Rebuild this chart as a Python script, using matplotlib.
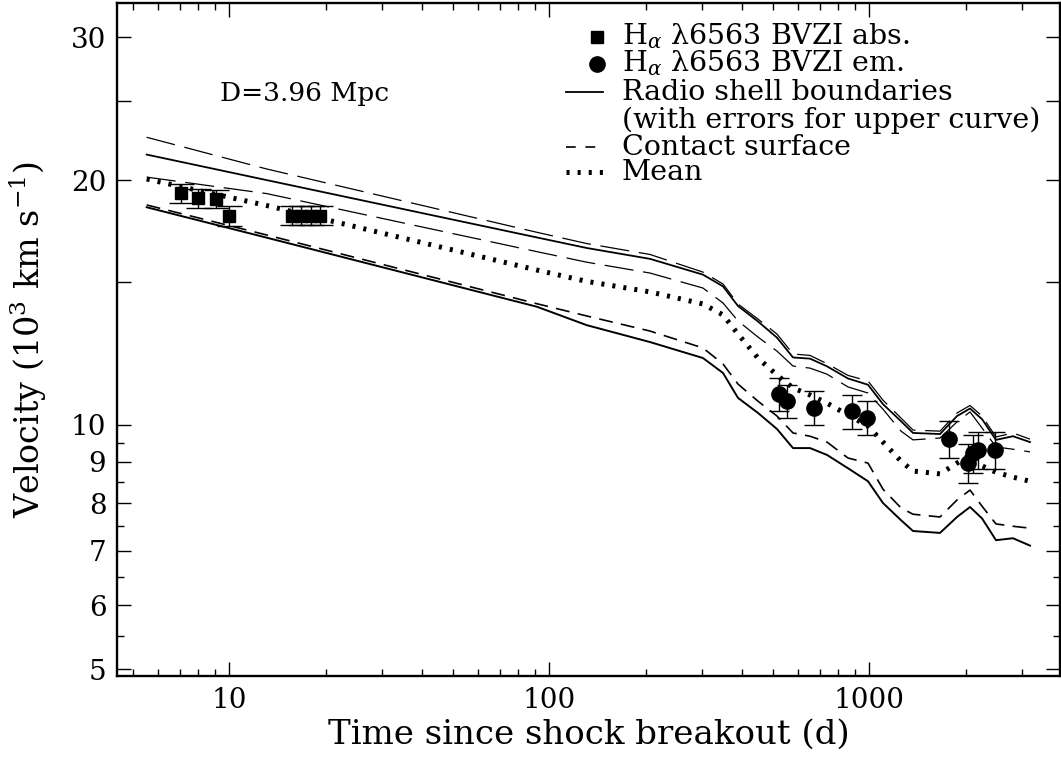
import matplotlib
matplotlib.use('Agg')
import matplotlib.pyplot as plt
from matplotlib.lines import Line2D
from matplotlib.ticker import FixedLocator, FixedFormatter, NullFormatter

plt.rcParams['font.family'] = ['DejaVu Serif']
plt.rcParams['mathtext.fontset'] = 'dejavuserif'
plt.rcParams['lines.scale_dashes'] = False

# ---- model curves (days, 10^3 km/s) ----
t_model = [5.52, 13.09, 91.5, 130.9, 206.4, 302.2, 349, 388.8, 448.9, 514.6,
           577.5, 652.7, 737.6, 857.9, 990.6, 1103.6, 1256.5, 1369.6, 1663,
           1880, 2064, 2250, 2488, 2812, 3178]
v_upper = [21.5, 20.0, 17.0, 16.5, 16.0, 15.3, 14.8, 14.0, 13.4, 12.8, 12.1,
           12.06, 11.8, 11.4, 11.2, 10.6, 10.1, 9.77, 9.74, 10.25, 10.47,
           10.16, 9.58, 9.68, 9.52]
v_upper_hi = [22.58, 20.64, 17.25, 16.71, 16.20, 15.41, 14.90, 14.08, 13.49,
              12.93, 12.22, 12.17, 11.89, 11.50, 11.32, 10.72, 10.19, 9.85,
              9.82, 10.34, 10.56, 10.25, 9.66, 9.77, 9.60]
v_upper_lo = [20.17, 19.25, 16.33, 15.85, 15.37, 14.73, 14.12, 13.42, 12.82,
              12.32, 11.81, 11.74, 11.54, 11.13, 10.94, 10.45, 9.82, 9.58,
              9.63, 10.08, 10.37, 9.91, 9.39, 9.33, 9.26]
v_mean = [20.06, 18.61, 15.50, 15.01, 14.57, 14.08, 13.65, 12.93, 12.08,
          11.51, 11.10, 10.88, 10.63, 10.28, 9.96, 9.52, 9.02, 8.77, 8.70,
          8.97, 9.18, 8.90, 8.74, 8.62, 8.52]
v_contact = [18.64, 17.12, 14.09, 13.61, 13.04, 12.43, 11.88, 11.22, 10.69,
             10.25, 9.77, 9.68, 9.52, 9.10, 8.97, 8.33, 7.90, 7.76, 7.70,
             8.08, 8.31, 7.94, 7.55, 7.50, 7.46]
v_lower = [18.52, 16.99, 13.97, 13.26, 12.64, 12.08, 11.58, 10.79, 10.34,
           9.88, 9.36, 9.36, 9.18, 8.84, 8.52, 8.01, 7.63, 7.40, 7.36, 7.70,
           7.92, 7.67, 7.21, 7.25, 7.10]

# ---- H-alpha absorption (squares) ----
t_abs = [7.07, 8.0, 9.07, 10.0, 15.7, 16.75, 18.0, 19.2]
v_abs = [19.27, 19.0, 18.96, 18.07, 18.09, 18.09, 18.09, 18.09]
e_abs = [0.5, 0.5, 0.5, 0.5, 0.5, 0.5, 0.5, 0.5]

# ---- H-alpha emission (circles) ----
t_em = [523, 552, 673, 885, 981, 1775, 2038, 2113, 2191, 2471]
v_em = [10.91, 10.70, 10.50, 10.39, 10.20, 9.60, 8.98, 9.22, 9.31, 9.31]
e_em = [0.5, 0.5, 0.5, 0.5, 0.5, 0.5, 0.5, 0.5, 0.5, 0.5]

y_major = [5, 6, 7, 8, 9, 10, 15, 20, 25, 30]
y_labels = ['5', '6', '7', '8', '9', '10', '', '20', '', '30']
y_minor = [5.5, 6.5, 7.5, 8.5, 9.5]
x_major = [10, 100, 1000]
x_labels = ['10', '100', '1000']
x_minor = [5, 6, 7, 8, 9, 20, 30, 40, 50, 60, 70, 80, 90,
           200, 300, 400, 500, 600, 700, 800, 900, 2000, 3000]

fig = plt.figure(figsize=(10.61, 7.61), dpi=100)
ax = fig.add_axes([0.1107, 0.1117, 0.8879, 0.8843])
ax.set_xscale('log')
ax.set_yscale('log')
ax.set_xlim(4.473, 3930)
ax.set_ylim(4.907, 33.03)

long_dash = (0, (21, 7))
short_dash = (0, (10, 6))
dotted = (0, (2.2, 5.8))

ax.plot(t_model, v_upper, color='k', lw=1.3)
ax.plot(t_model, v_upper_hi, color='k', lw=0.9, ls=long_dash)
ax.plot(t_model, v_upper_lo, color='k', lw=0.9, ls=long_dash)
ax.plot(t_model, v_mean, color='k', lw=3.6, ls=dotted)
ax.plot(t_model, v_contact, color='k', lw=1.2, ls=short_dash)
ax.plot(t_model, v_lower, color='k', lw=1.4)

ax.errorbar(t_abs, v_abs, yerr=e_abs, fmt='s', color='k', ms=9,
            elinewidth=1.0, capsize=9, capthick=1.0, zorder=5)
ax.errorbar(t_em, v_em, yerr=e_em, fmt='o', color='k', ms=11,
            elinewidth=1.0, capsize=7.5, capthick=1.0, zorder=5)

ax.xaxis.set_major_locator(FixedLocator(x_major))
ax.xaxis.set_major_formatter(FixedFormatter(x_labels))
ax.xaxis.set_minor_locator(FixedLocator(x_minor))
ax.xaxis.set_minor_formatter(NullFormatter())
ax.yaxis.set_major_locator(FixedLocator(y_major))
ax.yaxis.set_major_formatter(FixedFormatter(y_labels))
ax.yaxis.set_minor_locator(FixedLocator(y_minor))
ax.yaxis.set_minor_formatter(NullFormatter())

ax.tick_params(which='both', direction='in', top=True, right=True,
               labelsize=20, pad=8, width=1.0, color='k')
ax.tick_params(which='major', length=10)
ax.tick_params(which='minor', length=5)
for s in ax.spines.values():
    s.set_linewidth(1.7)

ax.set_xlabel('Time since shock breakout (d)', fontsize=24.5, va='center')
ax.xaxis.set_label_coords(0.5, -0.087)
ax.set_ylabel(r'Velocity (10$^3$ km s$^{-1}$)', fontsize=24, va='center')
ax.yaxis.set_label_coords(-0.095, 0.5)

ax.text(0.199, 0.866, 'D=3.96 Mpc', transform=ax.transAxes, fontsize=19,
        ha='center', va='center')

# ---- hand-made legend ----
tx = 0.5355
mx = 0.5087
lx = [0.476, 0.5157]
rows = [0.950, 0.910, 0.8678, 0.8262, 0.786, 0.7489]
fs = 20.5
ax.plot([mx], [rows[0]], 's', color='k', ms=9, transform=ax.transAxes)
ax.text(tx, rows[0], r'H$_\alpha$ λ6563 BVZI abs.', transform=ax.transAxes,
        fontsize=fs, va='center')
ax.plot([mx], [rows[1]], 'o', color='k', ms=11, transform=ax.transAxes)
ax.text(tx, rows[1], r'H$_\alpha$ λ6563 BVZI em.', transform=ax.transAxes,
        fontsize=fs, va='center')
ax.add_line(Line2D(lx, [rows[2]] * 2, color='k', lw=1.3, transform=ax.transAxes))
ax.text(tx, rows[2], 'Radio shell boundaries', transform=ax.transAxes,
        fontsize=fs, va='center')
ax.text(tx, rows[3], '(with errors for upper curve)', transform=ax.transAxes,
        fontsize=fs, va='center')
ax.add_line(Line2D(lx, [rows[4]] * 2, color='k', lw=1.2, ls=(0, (7, 7)),
                   transform=ax.transAxes))
ax.text(tx, rows[4], 'Contact surface', transform=ax.transAxes,
        fontsize=fs, va='center')
ax.add_line(Line2D(lx, [rows[5]] * 2, color='k', lw=3.6, ls=dotted,
                   transform=ax.transAxes))
ax.text(tx, rows[5], 'Mean', transform=ax.transAxes, fontsize=fs, va='center')

fig.savefig('out.png', dpi=100)
